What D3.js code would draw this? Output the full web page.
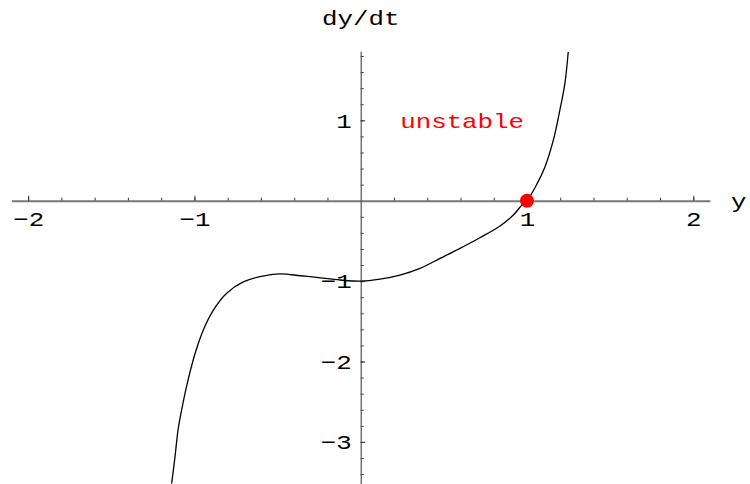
<!DOCTYPE html>
<html>
<head>
<meta charset="utf-8">
<script src="https://cdn.jsdelivr.net/npm/d3@7"></script>
<style>
  body { margin: 0; background: #fff; }
  svg { display: block; }
  text { font-family: "Liberation Mono", "DejaVu Sans Mono", monospace; }
</style>
</head>
<body>
<svg id="chart" width="750" height="484"></svg>
<script>
// Phase line data: y and dy/dt sampled along the curve
const yValues = [-1.137, -1.117, -1.097, -1.067, -1.037, -0.996, -0.947, -0.886, -0.806, -0.706,
                 -0.606, -0.485, -0.363, -0.265, -0.124, 0, 0.116, 0.236, 0.357, 0.477,
                 0.597, 0.717, 0.838, 0.918, 0.978, 1.0, 1.058, 1.108, 1.158, 1.198,
                 1.228, 1.248];
const dydtValues = [-3.52, -3.19, -2.83, -2.50, -2.22, -1.90, -1.61, -1.36, -1.15, -1.01,
                    -0.945, -0.91, -0.933, -0.953, -0.986, -1.0, -0.975, -0.924, -0.841, -0.717,
                    -0.592, -0.46, -0.315, -0.178, -0.033, 0, 0.20, 0.42, 0.75, 1.13,
                    1.46, 1.85];
const equilibrium = [1, 0];
const xTickLabels = [-2, -1, 1, 2];
const yTickLabels = [-3, -2, -1, 1];
const annotation = { text: "unstable", x: 0.61, y: 1.0 };

const svg = d3.select("#chart");
const x = d3.scaleLinear().domain([-2.1, 2.1]).range([11.5, 709.9]);
const y = d3.scaleLinear().domain([-3.52, 1.86]).range([483.7, 51.2]);
const sx = 1.23; // horizontal text stretch
const fs = 21;
const fmt = d3.format("d");

// minor ticks
const xMinor = d3.range(-2, 2.001, 0.2).map(v => +v.toFixed(1)).filter(v => Math.abs(v) > 1e-9);
const yMinor = d3.range(-3.4, 1.801, 0.2).map(v => +v.toFixed(1)).filter(v => Math.abs(v) > 1e-9);

// x axis
const gx = svg.append("g").attr("transform", `translate(0,${y(0)})`);
gx.append("g").call(d3.axisBottom(x).tickValues(xMinor).tickSizeInner(-3).tickSizeOuter(0).tickFormat(""))
  .call(g => g.select(".domain").remove());
gx.append("g").call(d3.axisBottom(x).tickValues(xTickLabels).tickSizeInner(-5).tickSizeOuter(0)
    .tickPadding(10.5).tickFormat(fmt))
  .call(g => g.select(".domain").attr("stroke", "#777").attr("stroke-width", 2));
gx.selectAll(".tick line").attr("stroke", "#333").attr("stroke-width", 1);
gx.selectAll("text").attr("font-size", fs).attr("fill", "#000")
  .attr("font-family", "Liberation Mono")
  .attr("transform", `scale(${sx},1)`);

// y axis
const gy = svg.append("g").attr("transform", `translate(${x(0)},0)`);
gy.append("g").call(d3.axisLeft(y).tickValues(yMinor).tickSizeInner(-3).tickSizeOuter(0).tickFormat(""))
  .call(g => g.select(".domain").remove());
gy.append("g").call(d3.axisLeft(y).tickValues(yTickLabels).tickSizeInner(-4.5).tickSizeOuter(0)
    .tickPadding(7.3).tickFormat(fmt))
  .call(g => g.select(".domain").attr("stroke", "#555").attr("stroke-width", 1.2));
gy.selectAll(".tick line").attr("stroke", "#333").attr("stroke-width", 1);
gy.selectAll("text").attr("font-size", fs).attr("fill", "#000")
  .attr("font-family", "Liberation Mono")
  .attr("transform", `scale(${sx},1)`);

// axis titles
svg.append("text").attr("x", x(0) / sx).attr("y", 25)
  .attr("transform", `scale(${sx},1)`)
  .attr("text-anchor", "middle").attr("font-size", fs).text("dy/dt");
svg.append("text").attr("x", 731 / sx).attr("y", 208)
  .attr("transform", `scale(${sx},1)`)
  .attr("text-anchor", "start").attr("font-size", fs).text("y");

// curve
svg.append("defs").append("clipPath").attr("id", "plot")
  .append("rect").attr("x", 0).attr("y", y(1.86)).attr("width", 750).attr("height", y(-3.52) - y(1.86));
const pts = yValues.map((v, i) => [v, dydtValues[i]]);
svg.append("path").datum(pts)
  .attr("clip-path", "url(#plot)")
  .attr("fill", "none").attr("stroke", "#000").attr("stroke-width", 1.3)
  .attr("d", d3.line().x(d => x(d[0])).y(d => y(d[1])).curve(d3.curveCatmullRom.alpha(0.5)));

// equilibrium point
svg.append("circle").attr("cx", x(equilibrium[0])).attr("cy", y(equilibrium[1]))
  .attr("r", 7).attr("fill", "#ff0000");

// annotation
svg.append("text").attr("x", x(annotation.x) / sx).attr("y", y(annotation.y) + 7.5)
  .attr("transform", `scale(${sx},1)`)
  .attr("text-anchor", "middle").attr("font-size", fs).attr("fill", "#ff0000")
  .text(annotation.text);
</script>
</body>
</html>
